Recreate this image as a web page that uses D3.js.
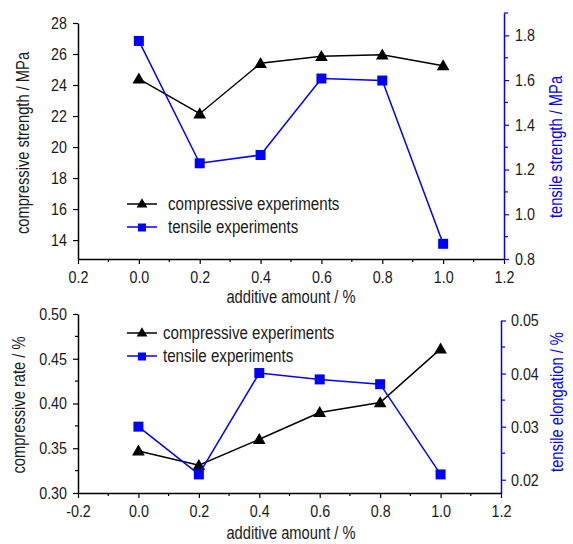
<!DOCTYPE html>
<html>
<head>
<meta charset="utf-8">
<script src="https://cdn.jsdelivr.net/npm/d3@7"></script>
<style>
  body { margin: 0; background: #fff; }
  svg text { font-family: "Liberation Sans", Arial, sans-serif; }
</style>
</head>
<body>
<svg id="chart" width="573" height="544"></svg>
<script>
(function () {

  // ---- data ----------------------------------------------------
  const AMOUNTS = [0.0, 0.2, 0.4, 0.6, 0.8, 1.0];

  const COMP_STRENGTH = [24.4, 22.15, 25.4, 25.85, 25.95, 25.25];   // MPa
  const TENS_STRENGTH = [1.775, 1.228, 1.265, 1.607, 1.598, 0.868]; // MPa

  const COMP_RATE = [0.347, 0.331, 0.360, 0.390, 0.401, 0.461];     // %
  const TENS_ELONG = [0.0300, 0.0210, 0.0401, 0.0389, 0.0380, 0.0210]; // %

  const X_TICKS = [-0.2, 0, 0.2, 0.4, 0.6, 0.8, 1.0, 1.2];
  const TOP_X_LABELS = ["0.2", "0.0", "0.2", "0.4", "0.6", "0.8", "1.0", "1.2"];
  const BOT_X_LABELS = ["-0.2", "0.0", "0.2", "0.4", "0.6", "0.8", "1.0", "1.2"];

  const LEGEND = ["compressive experiments", "tensile experiments"];
  const BLUE = "#0000ff";
  const INK = "#1a1a1a";

  const svg = d3.select("#chart");

  // ---- helpers ---------------------------------------------------
  function styleAxis(g, color) {
    g.select(".domain").attr("stroke", color).attr("stroke-width", 1.5);
    g.selectAll(".tick line").attr("stroke", color).attr("stroke-width", 1.2);
    g.selectAll(".tick text").attr("fill", INK).style("font-size", "17px")
      .style("font-family", null);
  }

  function minorTicks(g, scale, values, orient, color, len) {
    values.forEach(v => {
      const p = scale(v);
      const l = g.append("line").attr("stroke", color).attr("stroke-width", 1.2);
      if (orient === "bottom") l.attr("x1", p).attr("x2", p).attr("y1", 0).attr("y2", len);
      if (orient === "left") l.attr("y1", p).attr("y2", p).attr("x1", 0).attr("x2", -len);
      if (orient === "right") l.attr("y1", p).attr("y2", p).attr("x1", 0).attr("x2", len);
    });
  }

  function drawSeries(xs, ys, yScale, color, marker) {
    const line = d3.line().x((d, i) => xs(AMOUNTS[i])).y(d => yScale(d));
    svg.append("path")
      .datum(ys)
      .attr("d", line)
      .attr("fill", "none")
      .attr("stroke", color)
      .attr("stroke-width", 1.5);
    const sym = d3.symbol().type(marker === "tri" ? d3.symbolTriangle : d3.symbolSquare)
      .size(marker === "tri" ? 70 : 100);
    svg.selectAll(null)
      .data(ys)
      .enter()
      .append("path")
      .attr("d", sym)
      .attr("transform", (d, i) => `translate(${xs(AMOUNTS[i])},${yScale(d) + (marker === "tri" ? 1 : 0)})`)
      .attr("fill", color);
  }

  function drawLegend(x, y, textX) {
    const items = [
      { label: LEGEND[0], color: "#000", marker: "tri" },
      { label: LEGEND[1], color: BLUE, marker: "sq" }
    ];
    items.forEach((it, i) => {
      const g = svg.append("g").attr("transform", `translate(${x},${y + i * 23})`);
      g.append("line").attr("x1", 0).attr("x2", 30).attr("y1", 0).attr("y2", 0)
        .attr("stroke", it.color).attr("stroke-width", 1.5);
      g.append("path")
        .attr("d", d3.symbol().type(it.marker === "tri" ? d3.symbolTriangle : d3.symbolSquare)
          .size(it.marker === "tri" ? 50 : 64))
        .attr("transform", "translate(15,0.5)")
        .attr("fill", it.color);
      g.append("text").attr("x", textX).attr("y", 5.5)
        .style("font-size", "18px").attr("fill", INK)
        .text(it.label);
    });
  }

  function yLabel(x, y, text, color) {
    svg.append("text")
      .attr("transform", `translate(${x},${y}) rotate(-90)`)
      .attr("text-anchor", "middle")
      .style("font-size", "17.5px")
      .attr("fill", color)
      .text(text);
  }

  function xLabel(y) {
    svg.append("text").attr("x", 291).attr("y", y).attr("text-anchor", "middle")
      .style("font-size", "17.5px").attr("fill", INK).text("additive amount / %");
  }

  // ================= top panel ====================================
  const x1 = d3.scaleLinear().domain([-0.2, 1.2]).range([78, 504]);
  const yL1 = d3.scaleLinear().domain([12.78, 28]).range([259, 23]);
  const yR1 = d3.scaleLinear().domain([0.8, 1.9]).range([259, 13]);

  const gx1 = svg.append("g").attr("transform", "translate(0,259)")
    .call(d3.axisBottom(x1).tickValues(X_TICKS).tickSize(5).tickPadding(7).tickSizeOuter(0)
      .tickFormat((d, i) => TOP_X_LABELS[i]));
  styleAxis(gx1, "#000");
  minorTicks(gx1, x1, [-0.1, 0.1, 0.3, 0.5, 0.7, 0.9, 1.1], "bottom", "#000", 3);

  const gyl1 = svg.append("g").attr("transform", "translate(78,0)")
    .call(d3.axisLeft(yL1).tickValues([14, 16, 18, 20, 22, 24, 26, 28]).tickSize(5).tickPadding(6)
      .tickSizeOuter(0).tickFormat(d3.format("d")));
  styleAxis(gyl1, "#000");

  const gyr1 = svg.append("g").attr("transform", "translate(504,0)")
    .call(d3.axisRight(yR1).tickValues([0.8, 1.0, 1.2, 1.4, 1.6, 1.8]).tickSize(5).tickPadding(6)
      .tickSizeOuter(0).tickFormat(d3.format(".1f")));
  styleAxis(gyr1, BLUE);
  minorTicks(gyr1, yR1, [0.9, 1.1, 1.3, 1.5, 1.7, 1.9], "right", BLUE, 4);

  drawSeries(x1, COMP_STRENGTH, yL1, "#000", "tri");
  drawSeries(x1, TENS_STRENGTH, yR1, BLUE, "sq");
  drawLegend(127, 204, 41);

  yLabel(29, 143, "compressive strength / MPa", INK);
  yLabel(562, 147, "tensile strength / MPa", BLUE);
  xLabel(303);

  // ================= bottom panel =================================
  const x2 = d3.scaleLinear().domain([-0.2, 1.2]).range([78, 501]);
  const yL2 = d3.scaleLinear().domain([0.30, 0.50]).range([493, 314]);
  const yR2 = d3.scaleLinear().domain([0.0175, 0.05]).range([493, 320.5]);

  const gx2 = svg.append("g").attr("transform", "translate(0,493)")
    .call(d3.axisBottom(x2).tickValues(X_TICKS).tickSize(5).tickPadding(7).tickSizeOuter(0)
      .tickFormat((d, i) => BOT_X_LABELS[i]));
  styleAxis(gx2, "#000");
  minorTicks(gx2, x2, [-0.1, 0.1, 0.3, 0.5, 0.7, 0.9, 1.1], "bottom", "#000", 3);

  const gyl2 = svg.append("g").attr("transform", "translate(78,0)")
    .call(d3.axisLeft(yL2).tickValues([0.30, 0.35, 0.40, 0.45, 0.50]).tickSize(5).tickPadding(6)
      .tickSizeOuter(0).tickFormat(d3.format(".2f")));
  styleAxis(gyl2, "#000");
  minorTicks(gyl2, yL2, [0.325, 0.375, 0.425, 0.475], "left", "#000", 3);

  const gyr2 = svg.append("g").attr("transform", "translate(501,0)")
    .call(d3.axisRight(yR2).tickValues([0.02, 0.03, 0.04, 0.05]).tickSize(5).tickPadding(5)
      .tickSizeOuter(0).tickFormat(d3.format(".2f")));
  styleAxis(gyr2, BLUE);
  minorTicks(gyr2, yR2, [0.025, 0.035, 0.045], "right", BLUE, 4);

  drawSeries(x2, COMP_RATE, yL2, "#000", "tri");
  drawSeries(x2, TENS_ELONG, yR2, BLUE, "sq");
  drawLegend(127, 333, 36);

  yLabel(25, 405, "compressive rate / %", INK);
  yLabel(563, 402, "tensile elongation / %", BLUE);
  xLabel(539);

  // the reference uses a narrow sans; squeeze every label horizontally
  svg.selectAll("text").each(function () {
    const w = this.getComputedTextLength();
    d3.select(this).attr("textLength", (w * 0.84).toFixed(1)).attr("lengthAdjust", "spacingAndGlyphs");
  });

})();
</script>
</body>
</html>
